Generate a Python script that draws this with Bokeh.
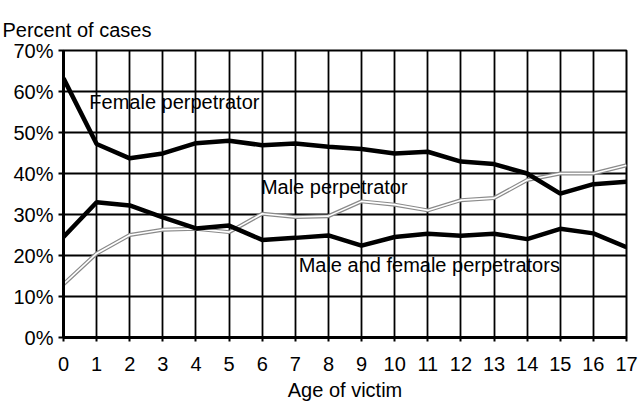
from bokeh.plotting import figure
from bokeh.models import Range1d, FixedTicker, Label
from bokeh.embed import file_html
from bokeh.resources import INLINE

ages = list(range(18))
female = [63.2, 47.2, 43.7, 44.9, 47.4, 48.0, 46.9, 47.3, 46.5, 46.0, 44.9, 45.3, 42.9, 42.3, 40.0, 35.1, 37.4, 38.0]
male = [13.0, 20.5, 25.0, 26.3, 26.5, 25.7, 30.2, 29.4, 29.6, 33.2, 32.4, 31.0, 33.5, 34.0, 38.4, 40.0, 40.0, 42.0]
both = [24.5, 33.0, 32.2, 29.3, 26.6, 27.3, 23.8, 24.3, 24.9, 22.4, 24.5, 25.3, 24.8, 25.3, 24.0, 26.5, 25.4, 22.0]
y_ticks = [0, 10, 20, 30, 40, 50, 60, 70]
y_tick_labels = {t: f"{t}%" for t in y_ticks}

FONT = "Liberation Sans"
FS = "20px"

p = figure(width=642, height=403, output_backend="svg", toolbar_location=None,
           x_range=Range1d(0, 17), y_range=Range1d(0, 70),
           min_border_left=63, min_border_right=16, min_border_top=50, min_border_bottom=66)

p.title.text = "Percent of cases"
p.title.align = "left"
p.title.vertical_align = "top"
p.title.offset = -61
p.title.text_font = FONT
p.title.text_font_size = FS
p.title.text_font_style = "normal"
p.title.text_color = "black"
p.title.standoff = 16
p.title.text_line_height = 1.6

p.outline_line_color = "black"
p.outline_line_width = 2

for ax in (p.xaxis, p.yaxis):
    ax.axis_line_color = "black"
    ax.axis_line_width = 3
    ax.major_tick_line_color = "black"
    ax.major_tick_line_width = 2
    ax.major_tick_in = 0
    ax.minor_tick_line_color = None
    ax.major_label_text_font = FONT
    ax.major_label_text_font_size = FS
    ax.major_label_text_color = "black"

p.xaxis.ticker = FixedTicker(ticks=ages)
p.xaxis.major_tick_out = 4
p.xaxis.major_label_standoff = 15
p.xaxis.axis_label = "Age of victim"
p.xaxis.axis_label_text_font = FONT
p.xaxis.axis_label_text_font_size = FS
p.xaxis.axis_label_text_font_style = "normal"
p.xaxis.axis_label_text_color = "black"
p.xaxis.axis_label_standoff = 5

p.yaxis.ticker = FixedTicker(ticks=y_ticks)
p.yaxis.major_label_overrides = y_tick_labels
p.yaxis.major_tick_out = 5
p.yaxis.major_label_standoff = 5

p.xgrid.ticker = FixedTicker(ticks=ages)
p.ygrid.ticker = FixedTicker(ticks=y_ticks)
for g in (p.xgrid, p.ygrid):
    g.grid_line_color = "black"
    g.grid_line_width = 1.8
    g.grid_line_alpha = 1.0

p.line(ages, male, line_color="#8a8a8a", line_width=4)
p.line(ages, male, line_color="white", line_width=1.6)
p.line(ages, female, line_color="black", line_width=4.5)
p.line(ages, both, line_color="black", line_width=4.5)

for x, y, t in [(0.78, 54.7, "Female perpetrator"),
                (5.96, 34.1, "Male perpetrator"),
                (7.1, 15.1, "Male and female perpetrators")]:
    p.add_layout(Label(x=x, y=y, text=t, text_font=FONT, text_font_size=FS,
                       text_color="black", text_baseline="bottom"))

open("out.html", "w").write(file_html(p, INLINE))
